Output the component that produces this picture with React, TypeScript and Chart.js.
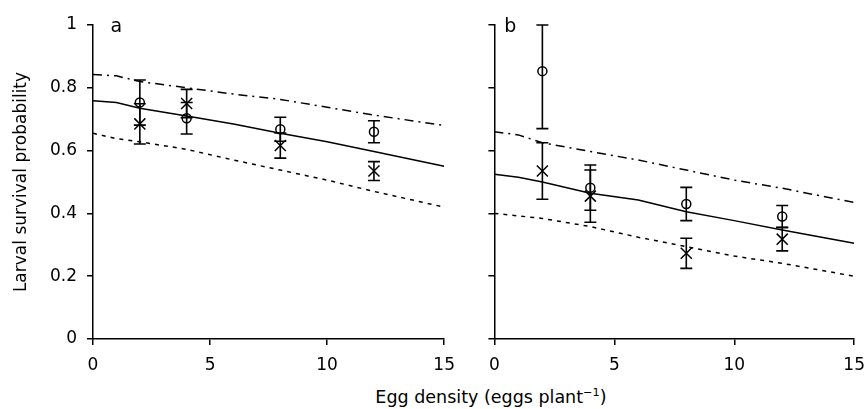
import React, { useEffect, useRef } from 'react';
import { Chart, registerables } from 'chart.js';

Chart.register(...registerables);

// ---- data ----
const curveX = [0, 1, 2, 4, 6, 8, 10, 12, 15];
// panel a model curves
const aUpper = [0.842, 0.838, 0.82, 0.8, 0.78, 0.763, 0.738, 0.713, 0.68];
const aMid = [0.759, 0.753, 0.735, 0.71, 0.685, 0.655, 0.628, 0.597, 0.55];
const aLower = [0.655, 0.638, 0.628, 0.604, 0.57, 0.538, 0.506, 0.47, 0.42];
// panel b model curves
const bUpper = [0.66, 0.65, 0.625, 0.597, 0.57, 0.538, 0.506, 0.48, 0.435];
const bMid = [0.525, 0.515, 0.5, 0.464, 0.443, 0.405, 0.377, 0.347, 0.305];
const bLower = [0.4, 0.392, 0.384, 0.358, 0.324, 0.294, 0.264, 0.241, 0.2];

const obsX = [2, 4, 8, 12];
const aCircle = [0.753, 0.703, 0.668, 0.66];
const aCircleErr = [0.072, 0.05, 0.038, 0.035];
const aCross = [0.685, 0.75, 0.616, 0.535];
const aCrossErr = [0.064, 0.045, 0.04, 0.03];
const bCircle = [0.853, 0.482, 0.43, 0.39];
const bCircleErr = [0.183, 0.072, 0.053, 0.035];
const bCross = [0.535, 0.455, 0.273, 0.318];
const bCrossErr = [0.09, 0.083, 0.048, 0.0375];

const xTicks = [0, 5, 10, 15];
const yTickLabels = ['0', '0.2', '0.4', '0.6', '0.8', '1'];
const yTitle = 'Larval survival probability';

const FONT = "'DejaVu Sans', sans-serif";
Chart.defaults.font.family = FONT;
Chart.defaults.color = '#000';

const errorBarPlugin = {
  id: 'errorBars',
  afterDatasetsDraw(chart: any) {
    const { ctx } = chart;
    const y = chart.scales.y;
    chart.data.datasets.forEach((ds: any, i: number) => {
      const errs = ds.errors;
      if (!errs) return;
      const meta = chart.getDatasetMeta(i);
      ctx.save();
      ctx.strokeStyle = '#000';
      ctx.lineWidth = 1.6;
      meta.data.forEach((pt: any, j: number) => {
        const v = ds.data[j].y;
        const e = errs[j];
        const top = y.getPixelForValue(Math.min(v + e, y.max));
        const bot = y.getPixelForValue(Math.max(v - e, y.min));
        const x = pt.x;
        ctx.beginPath();
        ctx.moveTo(x, top);
        ctx.lineTo(x, bot);
        ctx.moveTo(x - 6, top);
        ctx.lineTo(x + 6, top);
        ctx.moveTo(x - 6, bot);
        ctx.lineTo(x + 6, bot);
        ctx.stroke();
      });
      ctx.restore();
    });
  },
};

const panelLabelPlugin = {
  id: 'panelLabel',
  afterDraw(chart: any, _args: any, opts: any) {
    if (!opts || !opts.text) return;
    const { ctx } = chart;
    ctx.save();
    ctx.fillStyle = '#000';
    ctx.font = `19px ${FONT}`;
    ctx.textBaseline = 'alphabetic';
    ctx.textAlign = 'left';
    ctx.fillText(opts.text, opts.x, opts.y);
    ctx.restore();
  },
};

const pts = (xs: number[], ys: number[]) => xs.map((x, i) => ({ x, y: ys[i] }));

function makeConfig(
  upper: number[],
  mid: number[],
  lower: number[],
  circ: number[],
  circErr: number[],
  cross: number[],
  crossErr: number[],
  isLeft: boolean,
  label: { text: string; x: number; y: number },
  rightPad: number
): any {
  const line = (data: number[], dash: number[]) => ({
    type: 'line',
    data: pts(curveX, data),
    borderColor: '#000',
    borderWidth: 1.5,
    borderDash: dash,
    pointRadius: 0,
    fill: false,
    tension: 0,
    showLine: true,
  });
  return {
    type: 'scatter',
    data: {
      datasets: [
        line(upper, [9, 5, 2, 5]),
        line(mid, []),
        line(lower, [4, 5]),
        {
          data: pts(obsX, circ),
          errors: circErr,
          pointStyle: 'circle',
          pointRadius: 4.5,
          borderColor: '#000',
          backgroundColor: 'rgba(0,0,0,0)',
          borderWidth: 1.5,
          showLine: false,
        },
        {
          data: pts(obsX, cross),
          errors: crossErr,
          pointStyle: 'crossRot',
          pointRadius: 7.8,
          borderColor: '#000',
          backgroundColor: 'rgba(0,0,0,0)',
          borderWidth: 1.5,
          showLine: false,
        },
      ],
    },
    options: {
      animation: false,
      responsive: false,
      layout: { padding: { top: 25, right: rightPad, bottom: 0, left: 0 } },
      plugins: {
        legend: { display: false },
        tooltip: { enabled: false },
        panelLabel: label,
      },
      scales: {
        x: {
          type: 'linear',
          min: 0,
          max: 15,
          afterBuildTicks: (s: any) => {
            s.ticks = xTicks.map((v) => ({ value: v }));
          },
          ticks: {
            color: '#000',
            font: { size: 17, family: FONT },
            padding: 10,
            maxRotation: 0,
            callback: (v: any) => String(v),
          },
          grid: { drawOnChartArea: false, drawTicks: true, tickLength: 6, color: '#000', lineWidth: 1.5 },
          border: { display: true, color: '#000', width: 1.5 },
          afterFit: (s: any) => {
            s.height = 41;
          },
        },
        y: {
          type: 'linear',
          min: 0,
          max: 1,
          afterBuildTicks: (s: any) => {
            s.ticks = yTickLabels.map((t) => ({ value: Number(t) }));
          },
          ticks: {
            display: isLeft,
            color: '#000',
            font: { size: 17, family: FONT },
            padding: 10,
            callback: (_v: any, i: number) => yTickLabels[i],
          },
          title: {
            display: isLeft,
            text: yTitle,
            color: '#000',
            font: { size: 17, family: FONT },
            padding: { top: 11, bottom: 0 },
          },
          grid: { drawOnChartArea: false, drawTicks: true, tickLength: 6, color: '#000', lineWidth: 1.5 },
          border: { display: true, color: '#000', width: 1.5 },
          afterFit: (s: any) => {
            s.width = isLeft ? 93 : 11;
          },
        },
      },
    },
    plugins: [errorBarPlugin, panelLabelPlugin],
  };
}

function Panel(props: { left: number; width: number; height: number; config: any }) {
  const ref = useRef<HTMLCanvasElement | null>(null);
  useEffect(() => {
    if (!ref.current) return;
    const chart = new Chart(ref.current, props.config);
    return () => chart.destroy();
  }, []);
  return (
    <canvas
      ref={ref}
      width={props.width}
      height={props.height}
      style={{ position: 'absolute', left: props.left, top: 0, width: props.width, height: props.height, display: 'block' }}
    />
  );
}

export default function App() {
  const cfgA = makeConfig(aUpper, aMid, aLower, aCircle, aCircleErr, aCross, aCrossErr, true, { text: 'a', x: 110.5, y: 32.3 }, 12);
  const cfgB = makeConfig(bUpper, bMid, bLower, bCircle, bCircleErr, bCross, bCrossErr, false, { text: 'b', x: 25.3, y: 32.3 }, 10);
  return (
    <div style={{ position: 'absolute', left: 0, top: 0, width: 867, height: 409, overflow: 'hidden', background: '#fff' }}>
      <Panel left={0} width={465} height={380} config={cfgA} />
      <Panel left={479} width={396} height={380} config={cfgB} />
      <div
        style={{
          position: 'absolute',
          left: 291,
          top: 387,
          width: 400,
          textAlign: 'center',
          fontFamily: FONT,
          fontSize: 17.5,
          lineHeight: '20px',
          color: '#000',
          whiteSpace: 'nowrap',
        }}
      >
        Egg density (eggs plant
        <sup style={{ fontSize: '0.65em', lineHeight: 0, verticalAlign: '0.6em' }}>−1</sup>)
      </div>
    </div>
  );
}
